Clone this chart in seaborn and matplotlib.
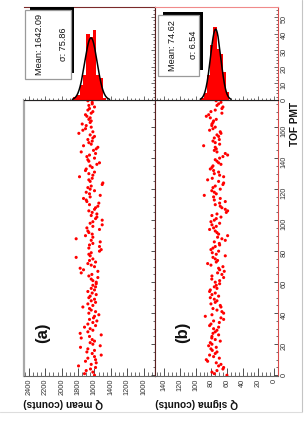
import numpy as np
import pandas as pd
import matplotlib
matplotlib.use('Agg')
import matplotlib.pyplot as plt
from matplotlib.patches import Rectangle
from matplotlib.lines import Line2D
from matplotlib.ticker import MultipleLocator
import seaborn as sns

# ---------------- data ----------------
q_mean = [
    1599, 1721, 1619, 1700, 1648, 1586, 1794, 1639, 1578, 1709,
    1586, 1680, 1599, 1517, 1627, 1692, 1599, 1680, 1770, 1529,
    1619, 1652, 1599, 1627, 1761, 1660, 1517, 1774, 1680, 1619,
    1652, 1721, 1586, 1680, 1619, 1570, 1660, 1611, 1599, 1546,
    1668, 1586, 1639, 1660, 1741, 1619, 1680, 1586, 1639, 1599,
    1668, 1652, 1578, 1627, 1680, 1599, 1639, 1586, 1619, 1578,
    1578, 1619, 1639, 1558, 1668, 1631, 1761, 1558, 1733, 1774,
    1599, 1639, 1680, 1586, 1660, 1619, 1823, 1652, 1668, 1639,
    1538, 1517, 1668, 1538, 1660, 1619, 1529, 1639, 1823, 1619,
    1709, 1627, 1668, 1680, 1538, 1692, 1619, 1505, 1652, 1619,
    1505, 1586, 1570, 1639, 1570, 1627, 1668, 1599, 1586, 1558,
    1660, 1546, 1692, 1700, 1733, 1652, 1529,
    1660, 1700, 1599, 1652, 1680, 1639, 1505, 1497, 1652, 1668,
    1627, 1782, 1619, 1668, 1599, 1709, 1700, 1627, 1652, 1570,
    1538, 1668, 1680, 1599, 1692, 1660, 1586, 1761, 1611, 1578,
    1558, 1733, 1639, 1668, 1627, 1680, 1619, 1599, 1652, 1790,
    1619, 1741, 1709, 1639, 1700, 1749, 1652, 1639, 1668, 1652,
    1692, 1709, 1639, 1619, 1680, 1660, 1599, 1668, 1627, 1627, 1680,
]
q_sigma = [
    60.2, 76.3, 79.3, 72.9, 65.3, 64.4, 70.8, 67.8, 73.8, 84.8,
    86.5, 69.9, 77.2, 82.3, 75.1, 72.9, 78.9, 80.6, 73.8, 83.5,
    79.3, 81.4, 68.7, 75.1, 79.5, 79.3, 70.8, 78.0, 75.1, 72.9,
    77.2, 70.8, 82.3, 80.6, 69.9, 77.2, 64.4, 67.8, 87.8, 79.3,
    64.4, 66.6, 72.9, 78.0, 67.8, 68.7, 80.6, 75.1, 72.9, 76.3,
    81.4, 70.8, 79.3, 75.1, 82.3, 81.4, 72.9, 76.3, 73.8, 69.5,
    75.1, 69.5, 79.5, 64.4, 79.3, 66.6, 72.1, 63.6, 69.5, 70.8,
    65.3, 80.6, 84.8, 73.8, 72.1, 75.1, 78.0, 62.3, 73.8, 78.9,
    70.8, 80.6, 78.0, 75.1, 69.5, 69.9, 76.3, 62.3, 66.6, 72.1,
    59.3, 70.8, 72.9, 75.1, 82.3, 77.2, 73.8, 79.3, 69.5, 80.6,
    76.3, 73.8, 67.8, 79.3, 72.9, 61.0, 59.3, 62.3, 66.6, 68.7,
    75.1, 69.5, 62.3, 76.3, 68.7, 77.2, 89.1,
    73.8, 76.3, 79.5, 68.7, 78.0, 75.1, 65.3, 64.4, 70.8, 84.8,
    78.9, 64.4, 69.5, 76.3, 70.8, 77.2, 81.4, 79.3, 78.0, 67.8,
    70.8, 72.9, 75.1, 69.5, 65.3, 59.3, 62.3, 72.9, 76.3, 73.8,
    75.1, 89.9, 69.5, 75.1, 78.0, 69.9, 76.3, 70.8, 72.9, 67.8,
    68.7, 82.3, 78.0, 75.1, 79.5, 79.3, 78.0, 77.2, 73.8, 81.4,
    86.5, 83.5, 66.6, 80.6, 75.1, 66.6, 65.3, 72.9, 70.8, 67.8, 74.0,
]
pmt = list(range(len(q_mean)))

fit_mean = [1642.09, 74.62]
fit_sigma = [75.86, 6.54]
stat_lines = [["Mean: 1642.09", "\u03c3: 75.86"], ["Mean: 74.62", "\u03c3: 6.54"]]
panel_labels = ["(a)", "(b)"]
q_titles = ["Q mean (counts)", "Q sigma (counts)"]
pmt_title = "TOF PMT"

# ---------------- style ----------------
sns.set_theme(style="white")
plt.rcParams['font.family'] = ['Liberation Sans', 'DejaVu Sans']

W, H = 306, 421
fig = plt.figure(figsize=(W / 100, H / 100), dpi=100)


def ax_at(x0, y0, x1, y1):
    return fig.add_axes([x0 / W, 1 - y1 / H, (x1 - x0) / W, (y1 - y0) / H])


sa = ax_at(24, 100, 155, 376)
sb = ax_at(155, 100, 278, 376)
ha = ax_at(24, 7, 155, 100)
hb = ax_at(155, 7, 278, 100)

df = pd.DataFrame({"pmt": pmt, "qm": q_mean, "qs": q_sigma})

xlims = [(2460, 860), (152, -5)]
majors = [200, 20]
minors = [50, 5]
cols = ["qm", "qs"]

for i, (sax, hax) in enumerate([(sa, ha), (sb, hb)]):
    sns.scatterplot(data=df, x=cols[i], y="pmt", ax=sax, color="#ff0000",
                    marker="o", s=5, linewidth=0, edgecolor="none",
                    legend=False, zorder=3)
    sax.set_xlim(*xlims[i])
    sax.set_ylim(-0.5, 177.5)
    sax.set_xlabel("")
    sax.set_ylabel("")
    sax.xaxis.set_major_locator(MultipleLocator(majors[i]))
    sax.xaxis.set_minor_locator(MultipleLocator(minors[i]))
    sax.yaxis.set_major_locator(MultipleLocator(20))
    sax.yaxis.set_minor_locator(MultipleLocator(5))
    sax.yaxis.tick_right()
    sax.tick_params(axis="x", which="major", direction="in", length=6, width=0.6,
                    labelsize=5.3, labelrotation=90, pad=2, bottom=True, top=False,
                    colors="#333333")
    sax.tick_params(axis="x", which="minor", direction="in", length=3.2, width=0.5,
                    bottom=True, top=False, color="#333333")
    sax.tick_params(axis="y", which="major", direction="in", length=2.6, width=0.6,
                    labelsize=5.3, labelrotation=90, pad=2, right=True, left=False,
                    labelright=(i == 1), colors="#333333")
    sax.tick_params(axis="y", which="minor", direction="in", length=1.3, width=0.5,
                    right=True, left=False, color="#333333")

    # projection histogram
    edges = np.linspace(min(xlims[i]), max(xlims[i]), 41)
    bw = edges[1] - edges[0]
    sns.histplot(x=df[cols[i]], bins=edges, ax=hax, color="#ff0000", alpha=1,
                 linewidth=0, element="bars", zorder=2)
    mu, sg = fit_mean[i], fit_sigma[i]
    xs = np.linspace(mu - 3 * sg, mu + 3 * sg, 200)
    amp = len(q_mean) * bw / (sg * np.sqrt(2 * np.pi))
    ys = amp * np.exp(-0.5 * ((xs - mu) / sg) ** 2)
    sns.lineplot(x=xs, y=ys, ax=hax, color="black", linewidth=1.1, zorder=4)
    hax.set_xlim(*xlims[i])
    hax.set_ylim(0, 56)
    hax.set_xlabel("")
    hax.set_ylabel("")
    hax.xaxis.set_major_locator(MultipleLocator(majors[i]))
    hax.xaxis.set_minor_locator(MultipleLocator(minors[i]))
    hax.yaxis.set_major_locator(MultipleLocator(10))
    hax.yaxis.set_minor_locator(MultipleLocator(2))
    hax.yaxis.tick_right()
    hax.tick_params(axis="x", which="major", direction="in", length=3, width=0.5,
                    labelbottom=False, bottom=True, top=False, color="#333333")
    hax.tick_params(axis="x", which="minor", direction="in", length=1.5, width=0.5,
                    bottom=True, top=False, color="#333333")
    hax.tick_params(axis="y", which="major", direction="in", length=3, width=0.5,
                    labelsize=5.3, labelrotation=90, pad=2, right=True, left=False,
                    labelright=(i == 1), colors="#333333")
    hax.tick_params(axis="y", which="minor", direction="in", length=1.5, width=0.5,
                    right=True, left=False, color="#333333")

# spines
for ax in (sa, sb, ha, hb):
    for s in ax.spines.values():
        s.set_linewidth(0.8)
        s.set_color("#5a1f1f")
sa.spines["left"].set_color("#a8a8a8"); sa.spines["left"].set_linewidth(1.6)
ha.spines["left"].set_visible(False)
sa.spines["bottom"].set_color("#666666")
sb.spines["bottom"].set_color("#666666")
sb.spines["right"].set_color("#d84a4a")
hb.spines["right"].set_color("#d84a4a")
ha.spines["top"].set_color("#7a2a2a")
hb.spines["top"].set_color("#f08a8a")
for ax in (ha, hb):
    ax.spines["bottom"].set_color("#222222")

# stats boxes (shadow + box)
boxes = [
    dict(shadow=(0.046, 0.294, 0.382, 1.0), box=(0.008, 0.223, 0.356, 0.968),
         tx=(0.122, 0.30), ty=0.60),
    dict(shadow=(0.065, 0.323, 0.393, 0.949), box=(0.024, 0.258, 0.358, 0.914),
         tx=(0.146, 0.31), ty=0.59),
]
for i, hax in enumerate([ha, hb]):
    b = boxes[i]
    x0, y0, x1, y1 = b["shadow"]
    hax.add_patch(Rectangle((x0, y0), x1 - x0, y1 - y0, transform=hax.transAxes,
                            facecolor="black", edgecolor="none", zorder=6, clip_on=False))
    x0, y0, x1, y1 = b["box"]
    hax.add_patch(Rectangle((x0, y0), x1 - x0, y1 - y0, transform=hax.transAxes,
                            facecolor="white", edgecolor="#9a9a9a", linewidth=0.9,
                            zorder=7, clip_on=False))
    for j, line in enumerate(stat_lines[i]):
        hax.text(b["tx"][j], b["ty"], line, transform=hax.transAxes, rotation=90,
                 ha="center", va="center", fontsize=6.6, color="#111111", zorder=8)

# panel labels and axis titles
fig.text(43 / W, 1 - 333 / H, panel_labels[0], rotation=90, ha="center", va="center",
         fontsize=12, fontweight="bold", color="#111111")
fig.text(183 / W, 1 - 332 / H, panel_labels[1], rotation=90, ha="center", va="center",
         fontsize=12, fontweight="bold", color="#111111")
fig.text(23 / W, 1 - 403 / H, q_titles[0], rotation=180, ha="left", va="center",
         fontsize=7.3, fontweight="bold", color="#111111")
fig.text(155 / W, 1 - 403 / H, q_titles[1], rotation=180, ha="left", va="center",
         fontsize=7.3, fontweight="bold", color="#111111")
fig.text(295 / W, 1 - 102 / H, pmt_title, rotation=90, ha="center", va="top",
         fontsize=7.3, fontweight="bold", color="#111111")

# page border lines
fig.add_artist(Line2D([302 / W, 302 / W], [1 - 412 / H, 1.0], transform=fig.transFigure,
                      color="#c4c4c4", linewidth=0.8))
fig.add_artist(Line2D([0, 302 / W], [1 - 412 / H, 1 - 412 / H], transform=fig.transFigure,
                      color="#dddddd", linewidth=0.8))

fig.savefig("out.png", dpi=100)
